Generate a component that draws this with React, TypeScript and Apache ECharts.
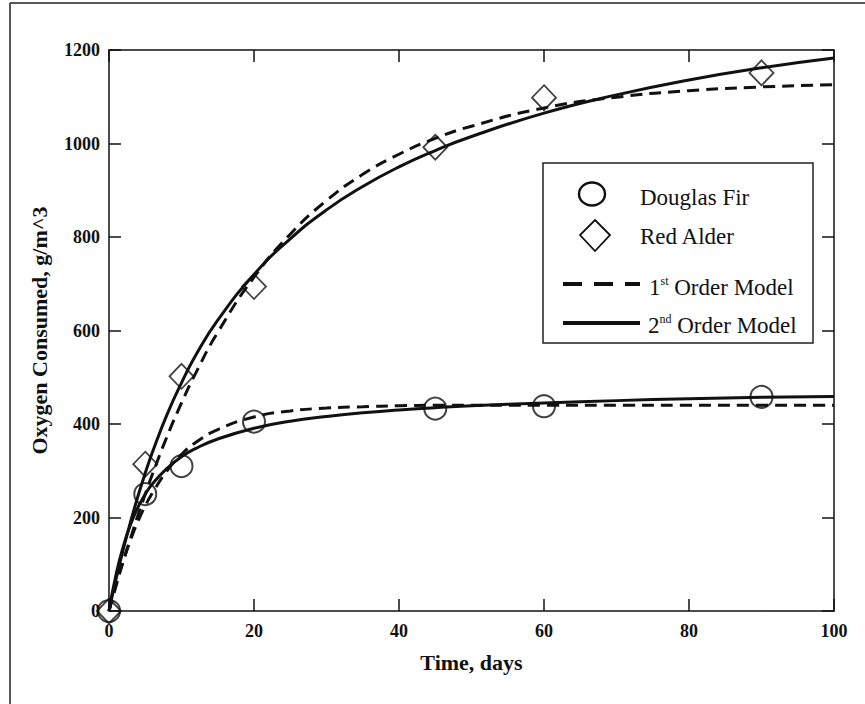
import React, { useEffect, useRef } from "react";
import * as echarts from "echarts";

const FONT = "'Liberation Serif', 'Times New Roman', serif";

// Measured data points
const obsTime = [0, 5, 10, 20, 45, 60, 90];
const douglasFir = [0, 250, 310, 405, 433, 438, 458];
const redAlder = [0, 314, 502, 694, 992, 1098, 1151];

// Model curves
const modelTime = [0, 1, 2, 3, 4, 5, 6, 8, 10, 12, 15, 20, 25, 30, 35, 40, 45, 50, 60, 70, 80, 90, 100];
const alder1st = [0, 55, 108, 157, 205, 250, 293, 373, 445, 510, 596, 714, 806, 878, 934, 977, 1011, 1037, 1076, 1099, 1113, 1121, 1126];
const alder2nd = [0, 70, 134, 192, 246, 295, 340, 420, 488, 548, 622, 720, 796, 858, 908, 950, 985, 1015, 1065, 1104, 1136, 1162, 1183];
const fir1st = [0, 59, 109, 153, 192, 225, 253, 300, 335, 361, 388, 415, 428, 434, 437, 439, 440, 440, 440, 440, 440, 440, 440];
const fir2nd = [0, 80, 140, 186, 222, 250, 272, 305, 330, 348, 368, 391, 406, 416, 424, 430, 435, 439, 445, 450, 454, 457, 459];

const xTicks = [0, 20, 40, 60, 80, 100];
const yTicks = [0, 200, 400, 600, 800, 1000, 1200];

const legendLabels = ["Douglas Fir", "Red Alder", "1st Order Model", "2nd Order Model"];

const pairs = (xs: number[], ys: number[]) => xs.map((x, i) => [x, ys[i]]);

const mkLine = () => ({ show: true, onZero: false, lineStyle: { color: "#111", width: 1.5 } });
const mkTick = () => ({ show: true, inside: true, length: 12, lineStyle: { color: "#111", width: 1.5 } });

export default function App() {
  const ref = useRef<HTMLDivElement>(null);
  useEffect(() => {
    if (!ref.current) return;
    const chart = echarts.init(ref.current, null, { renderer: "svg" });
    const lbl = () => ({ fontFamily: FONT, fontWeight: "bold" as const, fontSize: 18, color: "#111", formatter: (v: number) => String(v) });
    const lineBase = { type: "line" as const, symbol: "none", smooth: true, silent: true, z: 2, xAxisIndex: 0, yAxisIndex: 0 };
    const supRich = {
      n: { fontFamily: FONT, fontSize: 23, fill: "#111", lineHeight: 24 },
      s: { fontFamily: FONT, fontSize: 12, fill: "#111", verticalAlign: "top", lineHeight: 24, padding: [0, 0, 12, 0] },
    };
    const option: any = {
      animation: false,
      backgroundColor: "#fff",
      grid: { left: 109, right: 31, top: 50, bottom: 93 },
      xAxis: [
        {
          type: "value", position: "bottom", min: xTicks[0], max: xTicks[xTicks.length - 1], interval: 20,
          axisLine: mkLine(), axisTick: mkTick(), splitLine: { show: false },
          axisLabel: { ...lbl(), margin: 11 },
          name: "Time, days", nameLocation: "middle", nameGap: 40,
          nameTextStyle: { fontFamily: FONT, fontWeight: "bold", fontSize: 22, color: "#111" },
        },
        {
          type: "value", position: "top", min: 0, max: 100, interval: 20,
          axisLine: mkLine(), axisTick: mkTick(), splitLine: { show: false }, axisLabel: { show: false },
        },
      ],
      yAxis: [
        {
          type: "value", position: "left", min: yTicks[0], max: yTicks[yTicks.length - 1], interval: 200,
          axisLine: mkLine(), axisTick: mkTick(), splitLine: { show: false },
          axisLabel: { ...lbl(), margin: 9 },
          name: "Oxygen Consumed, g/m^3", nameLocation: "middle", nameGap: 59,
          nameTextStyle: { fontFamily: FONT, fontWeight: "bold", fontSize: 22, color: "#111" },
        },
        {
          type: "value", position: "right", min: 0, max: 1200, interval: 200,
          axisLine: mkLine(), axisTick: mkTick(), splitLine: { show: false }, axisLabel: { show: false },
        },
      ],
      series: [
        { ...lineBase, name: "Red Alder 1st", data: pairs(modelTime, alder1st), lineStyle: { color: "#111", width: 3, type: [12, 7] } },
        { ...lineBase, name: "Red Alder 2nd", data: pairs(modelTime, alder2nd), lineStyle: { color: "#111", width: 3 } },
        { ...lineBase, name: "Douglas Fir 1st", data: pairs(modelTime, fir1st), lineStyle: { color: "#111", width: 3, type: [12, 7] } },
        { ...lineBase, name: "Douglas Fir 2nd", data: pairs(modelTime, fir2nd), lineStyle: { color: "#111", width: 3 } },
        {
          type: "scatter", name: legendLabels[0], data: pairs(obsTime, douglasFir), symbol: "circle", symbolSize: 22, z: 3,
          itemStyle: { color: "rgba(255,255,255,0)", borderColor: "#111", borderWidth: 2 },
        },
        {
          type: "scatter", name: legendLabels[1], data: pairs(obsTime, redAlder), symbol: "diamond", symbolSize: [24, 25], z: 3,
          itemStyle: { color: "rgba(255,255,255,0)", borderColor: "#111", borderWidth: 1.8 },
        },
        // empty series bound to the secondary axes so they render
        { type: "line", data: [], xAxisIndex: 1, yAxisIndex: 1, silent: true },
      ],
      graphic: [
        { type: "line", shape: { x1: 10, y1: 3, x2: 865, y2: 3 }, style: { stroke: "#222", lineWidth: 1.5 } },
        { type: "line", shape: { x1: 10, y1: 3, x2: 10, y2: 704 }, style: { stroke: "#222", lineWidth: 1.5 } },
        {
          type: "group", z: 10,
          children: [
            { type: "rect", shape: { x: 543, y: 163, width: 270, height: 180 }, style: { fill: "#fff", stroke: "#222", lineWidth: 1.5 } },
            { type: "ellipse", shape: { cx: 592, cy: 194, rx: 13, ry: 11.5 }, style: { fill: "none", stroke: "#111", lineWidth: 2.4 } },
            { type: "polygon", shape: { points: [[595, 220], [610, 235], [595, 251], [580, 235]] }, style: { fill: "none", stroke: "#111", lineWidth: 1.8 } },
            { type: "line", shape: { x1: 563, y1: 284, x2: 640, y2: 284 }, style: { stroke: "#111", lineWidth: 4, lineDash: [19, 12] } },
            { type: "line", shape: { x1: 563, y1: 323, x2: 640, y2: 323 }, style: { stroke: "#111", lineWidth: 4 } },
            { type: "text", x: 640, y: 197, style: { text: legendLabels[0], fontFamily: FONT, fontSize: 23, fill: "#111", verticalAlign: "middle" } },
            { type: "text", x: 640, y: 236, style: { text: legendLabels[1], fontFamily: FONT, fontSize: 23, fill: "#111", verticalAlign: "middle" } },
            { type: "text", x: 649, y: 287, style: { text: "{n|1}{s|st}{n| Order Model}", verticalAlign: "middle", fill: "#111", rich: supRich } },
            { type: "text", x: 648, y: 325, style: { text: "{n|2}{s|nd}{n| Order Model}", verticalAlign: "middle", fill: "#111", rich: supRich } },
          ],
        },
      ],
    };
    chart.setOption(option);
    return () => chart.dispose();
  }, []);
  return <div ref={ref} style={{ position: "absolute", left: 0, top: 0, width: 865, height: 704 }} />;
}
